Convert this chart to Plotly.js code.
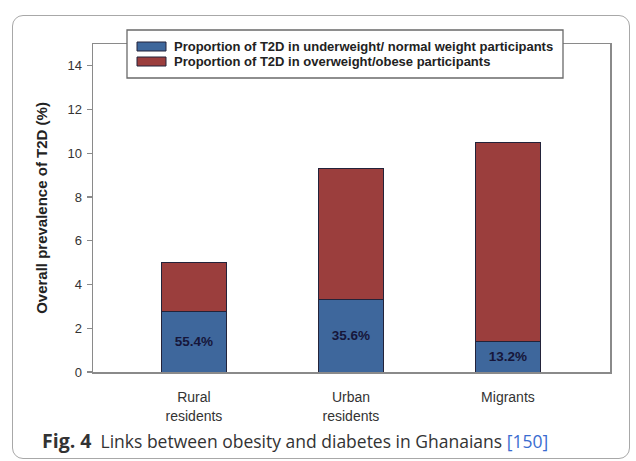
<!DOCTYPE html>
<html>
<head>
<meta charset="utf-8">
<script src="https://cdn.plot.ly/plotly-3.0.1.min.js"></script>
<style>
html,body{margin:0;padding:0;background:#fff;}
#wrap{position:relative;width:636px;height:461px;}
#chart{position:absolute;left:0;top:0;width:636px;height:461px;}
#frame{position:absolute;left:12px;top:15px;width:616px;height:442px;border:1.5px solid #a8a8a8;border-radius:11px;pointer-events:none;}
</style>
</head>
<body>
<div id="wrap"><div id="frame"></div><div id="chart"></div></div>
<script>
var categories = ['Rural<br>residents', 'Urban<br>residents', 'Migrants'];
var normalWeight = [2.77, 3.30, 1.38];
var overweight = [2.23, 6.00, 9.12];
var normalLabels = ['55.4%', '35.6%', '13.2%'];
var seriesNames = ['Proportion of T2D in underweight/ normal weight participants',
                   'Proportion of T2D in overweight/obese participants'];
var seriesColors = ['#3e679c', '#9b3e3d'];
var yTicks = [0, 2, 4, 6, 8, 10, 12, 14];

var L = 93, R = 610, T = 44, B = 372;
function px(x){ return (x - L) / (R - L); }
function py(y){ return (B - y) / (B - T); }

var FONT = 'Liberation Sans';

var traces = [
  {type:'bar', x:categories, y:normalWeight, name:seriesNames[0], width:0.41,
   marker:{color:seriesColors[0], line:{color:'#23233a', width:1}},
   text:normalLabels, textposition:'inside', insidetextanchor:'middle',
   textfont:{family:FONT, size:13.5, color:'#16163a', weight:'bold'},
   hoverinfo:'skip'},
  {type:'bar', x:categories, y:overweight, name:seriesNames[1], width:0.41,
   marker:{color:seriesColors[1], line:{color:'#23233a', width:1}},
   hoverinfo:'skip'}
];

var layout = {
  width:636, height:461,
  margin:{l:L, r:636-R, t:T, b:461-B, pad:0},
  paper_bgcolor:'rgba(0,0,0,0)', plot_bgcolor:'#fff',
  barmode:'stack', showlegend:false,
  font:{family:FONT, color:'#333'},
  xaxis:{type:'category', range:[-0.643, 2.65], showline:true, mirror:true,
         linecolor:'#8a8a8a', linewidth:1.5, ticks:'', showgrid:false,
         tickfont:{family:FONT, size:14, color:'#333'}, ticklabelstandoff:12},
  yaxis:{range:[0,15], tickvals:yTicks, showline:true, mirror:true,
         linecolor:'#8a8a8a', linewidth:1.5, ticks:'outside', ticklen:5,
         tickcolor:'#8a8a8a', tickwidth:1.2, showgrid:false, zeroline:false,
         tickfont:{family:FONT, size:13, color:'#333'}, ticklabelstandoff:2,
         title:{text:'<b>Overall prevalence of T2D (%)</b>', font:{family:FONT, size:15, color:'#222'}, standoff:16}},
  shapes:[
    {type:'rect', xref:'paper', yref:'paper', x0:px(127), x1:px(563), y0:py(78), y1:py(30),
     fillcolor:'#fff', line:{color:'#6a6a6a', width:1.3}, layer:'above'},
    {type:'rect', xref:'paper', yref:'paper', x0:px(137), x1:px(166), y0:py(51), y1:py(42),
     fillcolor:seriesColors[0], line:{color:'#23233a', width:1}, layer:'above'},
    {type:'rect', xref:'paper', yref:'paper', x0:px(137), x1:px(166), y0:py(66), y1:py(57),
     fillcolor:seriesColors[1], line:{color:'#23233a', width:1}, layer:'above'}
  ],
  annotations:[
    {xref:'paper', yref:'paper', x:px(172), y:py(46.5), xanchor:'left', yanchor:'middle',
     text:'<b>'+seriesNames[0]+'</b>', showarrow:false, font:{family:FONT, size:13, color:'#222'}},
    {xref:'paper', yref:'paper', x:px(172), y:py(61.5), xanchor:'left', yanchor:'middle',
     text:'<b>'+seriesNames[1]+'</b>', showarrow:false, font:{family:FONT, size:13, color:'#222'}},
    {xref:'paper', yref:'paper', x:px(40), y:py(440), xanchor:'left', yanchor:'middle',
     text:'<b><span style="font-size:19.5px">Fig. 4</span></b>  Links between obesity and diabetes in Ghanaians <span style="color:#3a6cd0">[150]</span>',
     showarrow:false, font:{family:'Open Sans, Noto Sans', size:17.5, color:'#333'}}
  ]
};

Plotly.newPlot('chart', traces, layout, {displayModeBar:false, staticPlot:true});
</script>
</body>
</html>
